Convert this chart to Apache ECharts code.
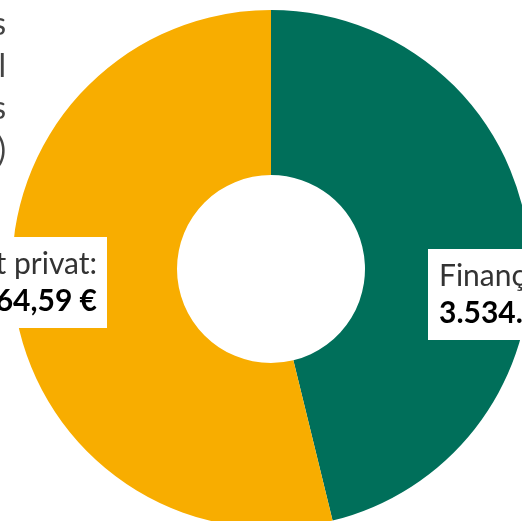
<!DOCTYPE html>
<html>
<head>
<meta charset="utf-8">
<script src="https://cdn.jsdelivr.net/npm/echarts@6/dist/echarts.min.js"></script>
<style>
  html, body { margin: 0; padding: 0; background: #fff; }
  #chart { width: 522px; height: 521px; }
</style>
</head>
<body>
<div id="chart"></div>
<script>
// dades
var titleLines = ['Distribució dels', 'del cost total', 'dels serveis', '(en euros)'];
var categories = ['Finançament públic', 'Finançament privat'];
var values = [3534462.31, 4119364.59];
var colors = ['#006f5a', '#f8ad00'];

function formatEuro(v) {
  var parts = v.toFixed(2).split('.');
  var ent = parts[0].replace(/\B(?=(\d{3})+(?!\d))/g, '.');
  return ent + ',' + parts[1] + ' €';
}

var pieData = [];
for (var i = 0; i < categories.length; i++) {
  pieData.push({ name: categories[i], value: values[i], itemStyle: { color: colors[i] } });
}

var chart = echarts.init(document.getElementById('chart'));
var option = {
  animation: false,
  title: {
    text: titleLines.join('\n'),
    left: 6,
    top: 4,
    padding: 0,
    textAlign: 'right',
    textStyle: {
      fontFamily: 'Lato',
      fontSize: 32,
      fontWeight: 'normal',
      lineHeight: 42,
      color: '#444'
    }
  },
  series: [{
    type: 'pie',
    center: [271, 269],
    radius: [94, 259],
    startAngle: 90,
    clockwise: true,
    silent: true,
    data: pieData,
    labelLine: { show: false },
    label: {
      show: true,
      position: 'inside',
      backgroundColor: '#fff',
      padding: [9, 10, 8, 11],
      formatter: function (p) {
        return '{a|' + p.name + ':}\n{v|' + formatEuro(p.value) + '}';
      },
      rich: {
        a: { fontFamily: 'Lato', fontSize: 30, lineHeight: 37, color: '#333' },
        v: { fontFamily: 'Lato', fontSize: 30, fontWeight: 'bold', lineHeight: 37, color: '#000' }
      }
    },
    labelLayout: function (params) {
      if (params.dataIndex === 0) {
        return { x: 428, y: 249, align: 'left', verticalAlign: 'top' };
      }
      return { x: 107, y: 237, align: 'right', verticalAlign: 'top' };
    }
  }]
};
chart.setOption(option);
</script>
</body>
</html>
